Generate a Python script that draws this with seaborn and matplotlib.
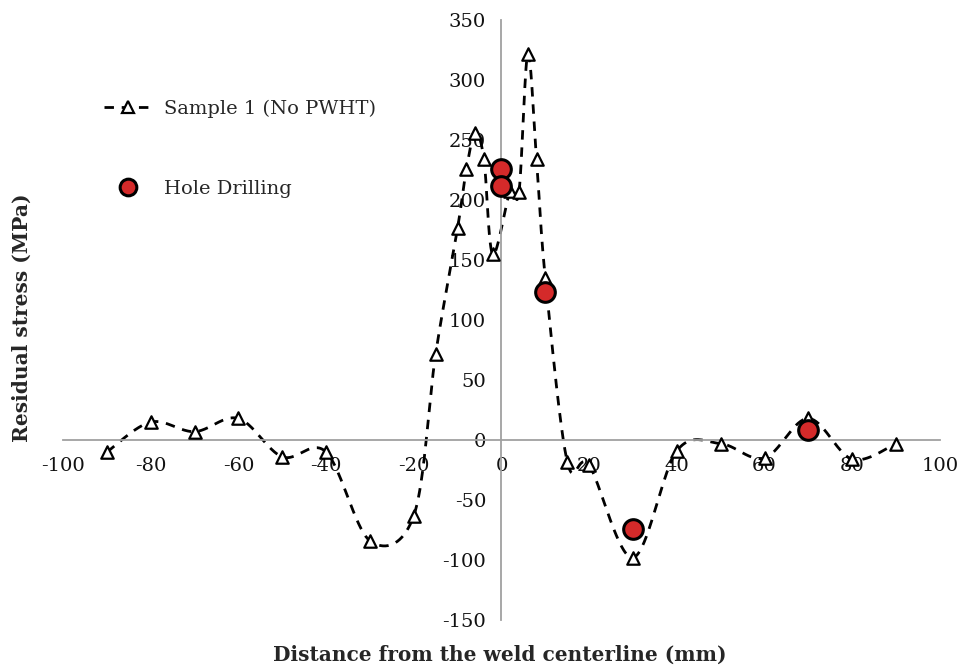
import numpy as np
import pandas as pd
import matplotlib
matplotlib.use("Agg")
import matplotlib.pyplot as plt
import seaborn as sns
from matplotlib.lines import Line2D

# ---- data ----
sample_x = [-90, -80, -70, -60, -50, -40, -30, -20, -15, -10, -8, -6, -4, -2,
            2, 4, 6, 8, 10, 15, 20, 30, 40, 50, 60, 70, 80, 90]
sample_y = [-10, 15, 7, 18, -14, -10, -84, -63, 72, 177, 226, 256, 234, 155,
            208, 207, 322, 234, 135, -18, -21, -98, -9, -3, -15, 18, -16, -3]
hole_x = [0, 0, 10, 30, 70]
hole_y = [226, 212, 123, -74, 8]
x_ticks = list(range(-100, 101, 20))
y_ticks = list(range(-150, 351, 50))
series_names = ["Sample 1 (No PWHT)", "Hole Drilling"]
x_label = "Distance from the weld centerline (mm)"
y_label = "Residual stress (MPa)"


def excel_smooth(xs, ys, n=40):
    """Excel-like smoothed line (Catmull-Rom Bezier through the points)."""
    P = np.column_stack([xs, ys]).astype(float)
    ext = np.vstack([P[0], P, P[-1]])
    out = []
    t = np.linspace(0, 1, n)[:, None]
    for i in range(len(P) - 1):
        p0, p1, p2, p3 = ext[i], ext[i + 1], ext[i + 2], ext[i + 3]
        c1 = p1 + (p2 - p0) / 6.0
        c2 = p2 - (p3 - p1) / 6.0
        seg = (1 - t) ** 3 * p1 + 3 * (1 - t) ** 2 * t * c1 + 3 * (1 - t) * t ** 2 * c2 + t ** 3 * p2
        out.append(seg if i == 0 else seg[1:])
    return np.vstack(out)


sns.set_style("white")
plt.rcParams["font.family"] = ["DejaVu Serif"]
plt.rcParams["axes.unicode_minus"] = False

fig = plt.figure(figsize=(9.64, 6.72), dpi=100)
ax = fig.add_axes([0.0654, 0.0774, 0.9096, 0.8926])

dash = (0, (3.4, 2.8))
curve = excel_smooth(sample_x, sample_y)
curve_df = pd.DataFrame({"x": curve[:, 0], "y": curve[:, 1]})
sns.lineplot(data=curve_df, x="x", y="y", sort=False, estimator=None, ax=ax,
             color="black", linewidth=2.0, linestyle=dash, zorder=2)

sample_df = pd.DataFrame({"x": sample_x, "y": sample_y})
sns.scatterplot(data=sample_df, x="x", y="y", ax=ax, marker="^", s=80,
                facecolor="white", edgecolor="black", linewidth=1.6, zorder=3)

hole_df = pd.DataFrame({"x": hole_x, "y": hole_y})
sns.scatterplot(data=hole_df, x="x", y="y", ax=ax, marker="o", s=200,
                color="#d42a2a", edgecolor="black", linewidth=2.2, zorder=4)

ax.set_xlim(-100, 100)
ax.set_ylim(-150, 350)
ax.set_xticks(x_ticks)
ax.set_yticks(y_ticks)
ax.set_xlabel("")
ax.set_ylabel("")

for s in ["top", "right"]:
    ax.spines[s].set_visible(False)
ax.spines["left"].set_position(("data", 0))
ax.spines["bottom"].set_position(("data", 0))
for s in ["left", "bottom"]:
    ax.spines[s].set_color("#a0a0a0")
    ax.spines[s].set_linewidth(1.3)
ax.tick_params(axis="both", direction="out", length=6, width=1.3, color="#a0a0a0",
               labelsize=14, labelcolor="#111111")
ax.tick_params(axis="x", pad=6)
ax.tick_params(axis="y", pad=5)

fig.text(500 / 964, 1 - 655 / 672, x_label, ha="center", va="center",
         fontsize=14.5, fontweight="bold")
fig.text(22 / 964, 1 - 318 / 672, y_label, ha="center", va="center",
         rotation=90, fontsize=14.5, fontweight="bold")

handles = [
    Line2D([], [], color="black", linestyle=dash, linewidth=2.0,
           marker="^", markersize=8.5, markerfacecolor="white",
           markeredgecolor="black", markeredgewidth=1.6),
    Line2D([], [], linestyle="none", marker="o", markersize=12,
           markerfacecolor="#d42a2a", markeredgecolor="black", markeredgewidth=2.2),
]
fig.legend(handles, series_names, loc="upper left",
           bbox_to_anchor=(94 / 964, 1 - 90 / 672), frameon=False,
           fontsize=14, handlelength=2.5, handletextpad=0.6,
           labelspacing=3.2, borderpad=0)

fig.savefig("out.png", dpi=100, facecolor="white")
